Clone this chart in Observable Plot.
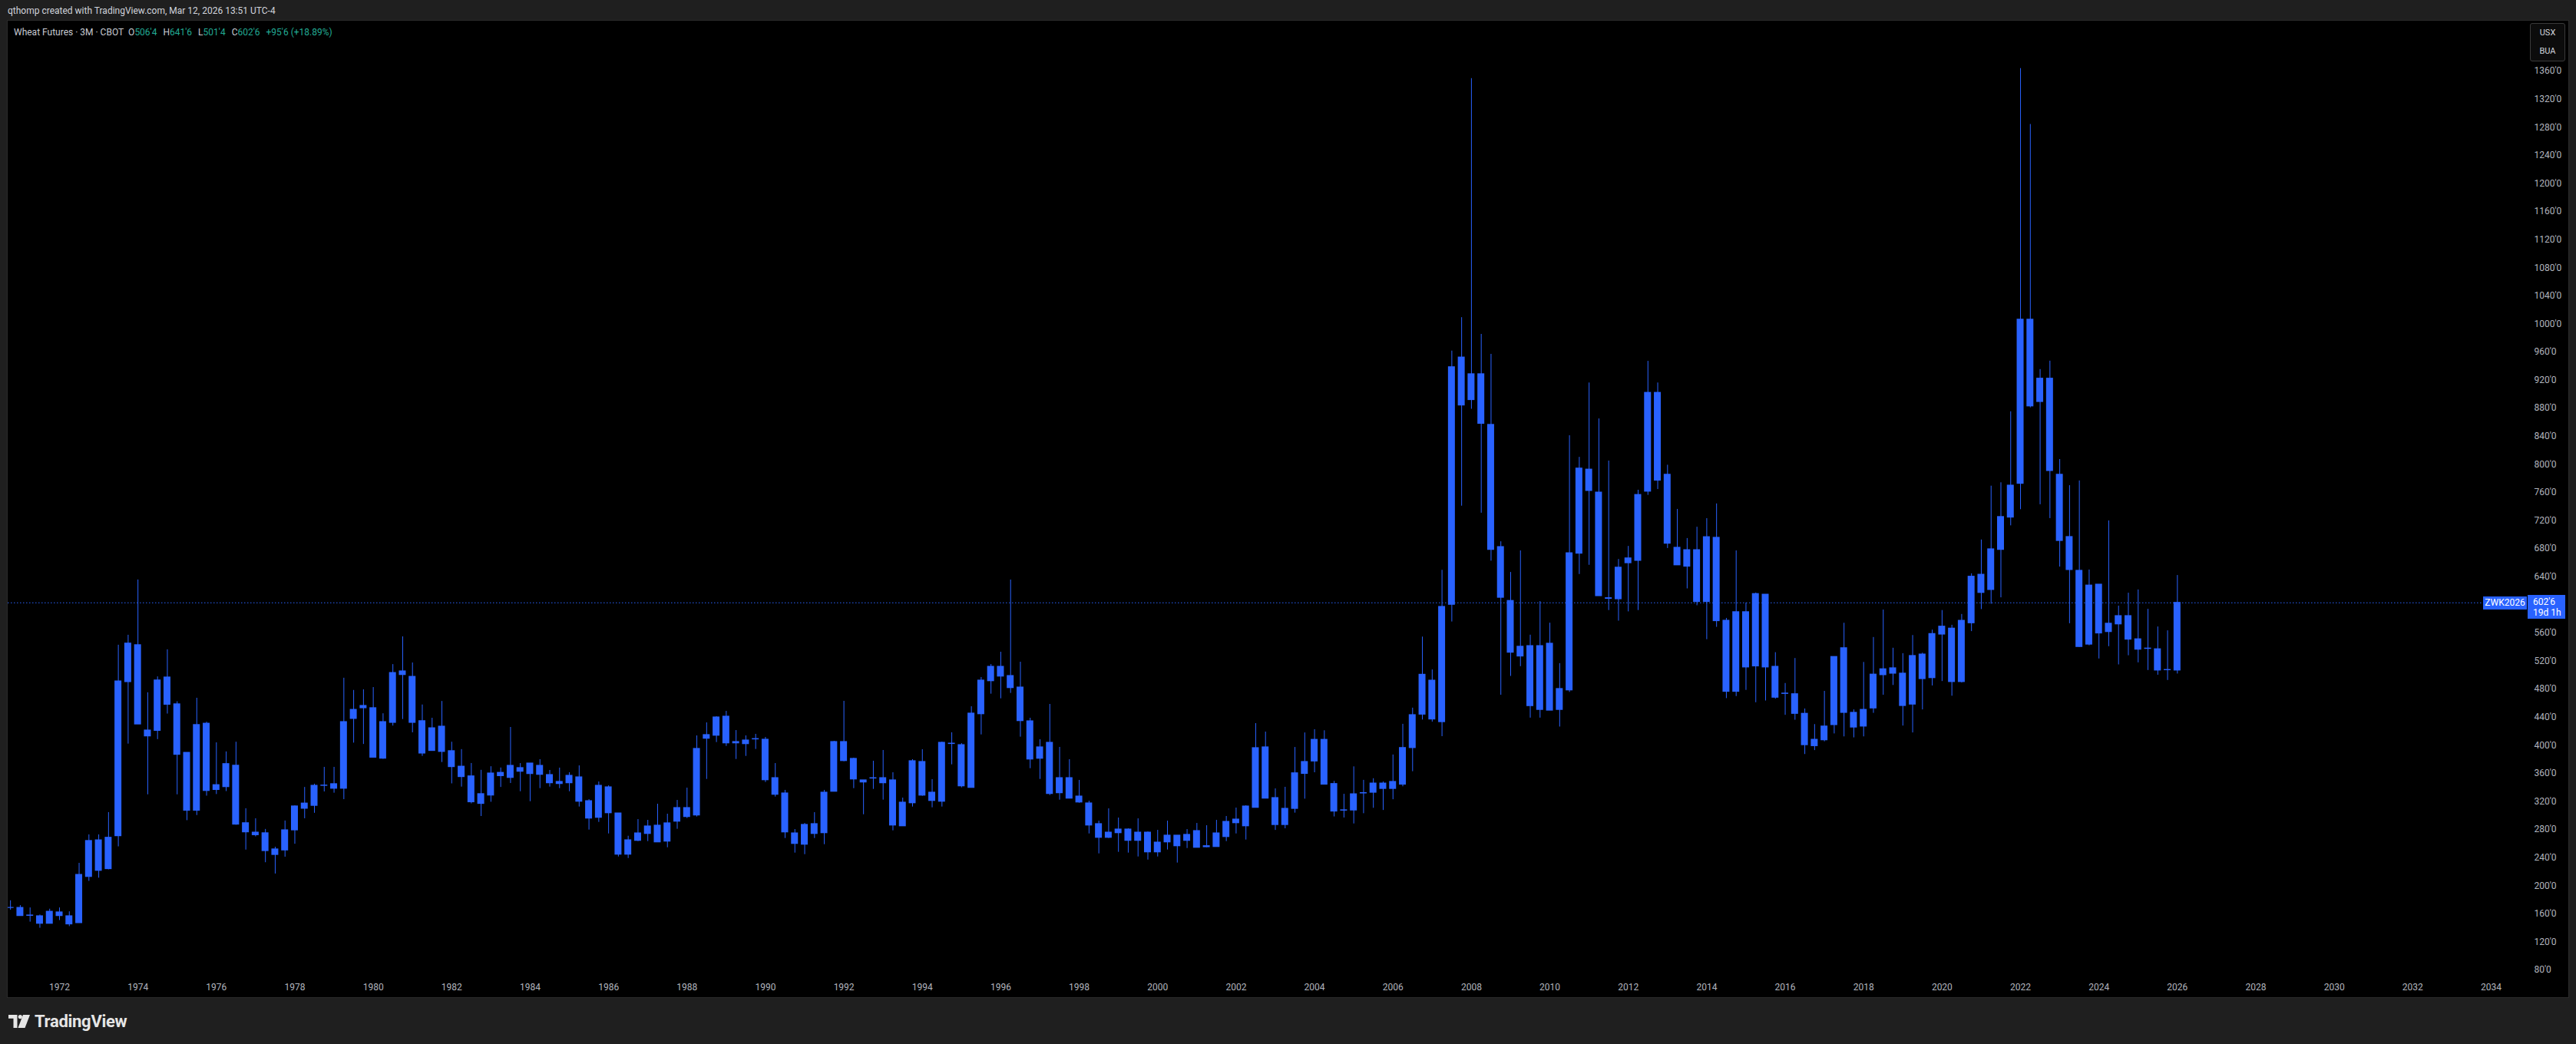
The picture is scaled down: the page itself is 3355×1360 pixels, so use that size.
<!DOCTYPE html>
<html>
<head>
<meta charset="utf-8">
<script src="https://cdn.jsdelivr.net/npm/d3@7"></script>
<script src="https://cdn.jsdelivr.net/npm/@observablehq/plot@0.6"></script>
<style>
  html, body { margin: 0; padding: 0; }
  body { width: 3355px; height: 1360px; overflow: hidden; position: relative; background: #1f1f1f;
         font-family: Roboto, "Noto Sans", "DejaVu Sans", sans-serif; }
  #hdr { position: absolute; left: 10px; top: 7px; font-size: 12px; color: #d1d4dc; white-space: nowrap; }
  #panel { position: absolute; left: 10px; top: 27px; width: 3335px; height: 1272px; background: #000;
           overflow: hidden; box-shadow: 0 0 0 1px #2a2a2a; }
  #chart { position: absolute; left: 0; top: 0; }
  #legend { position: absolute; left: 8px; top: 8px; font-size: 12px; color: #c8cbd3; white-space: nowrap; }
  #legend .v { color: #22ab94; margin-right: 8px; }
  #unit { position: absolute; left: 3285px; top: 3px; width: 44px; height: 48px; border: 1px solid #3a3a3a;
          border-radius: 3px; background: #0c0c0c; color: #d1d4dc; font-size: 11px; text-align: center;
          line-height: 24px; }
  .tag { position: absolute; background: #2962ff; color: #fff; font-size: 12px; box-sizing: border-box; }
  #sym { left: 3224px; width: 57px; height: 17px; line-height: 17px; text-align: center; }
  #price { left: 3282px; width: 49px; height: 31px; padding-left: 7px; line-height: 14px; padding-top: 2px; }
  #logo { position: absolute; left: 11px; top: 1318px; display: flex; align-items: center; gap: 6px;
          color: #e6e6e6; font-weight: 700; font-size: 22px; letter-spacing: -0.3px; }
</style>
</head>
<body>
<div id="hdr">qthomp created with TradingView.com, Mar 12, 2026 13:51 UTC-4</div>
<div id="panel">
  <div id="chart"></div>
  <div id="legend"></div>
  <div id="unit">USX<br>BUA</div>
  <div id="sym" class="tag">ZWK2026</div>
  <div id="price" class="tag"></div>
</div>
<div id="logo">
  <svg width="28" height="17" viewBox="0 0 28 17"><path d="M0 0H11.5V17H6.5V4.8H0Z" fill="#e6e6e6"/><circle cx="15.3" cy="2.6" r="2.6" fill="#e6e6e6"/><path d="M19 0H28L21.5 17H12.5Z" fill="#e6e6e6"/></svg>
  <span>TradingView</span>
</div>
<script>
// Wheat Futures, CBOT, quarterly (3M) candles, first candle = 1970 Q4, last = 2026 Q1
const firstQuarterStart = 1970.75;

const open = [
  168.4, 168.4, 157.6, 156.5, 145.9, 162.0, 156.5, 146.8, 212.6, 264.6,
  223.7, 270.6, 490.0, 542.5, 421.0, 420.6, 496.5, 458.3, 389.2, 306.9,
  430.7, 336.4, 340.5, 370.9, 289.0, 275.6, 274.7, 251.7, 250.3, 278.9,
  309.7, 313.8, 342.3, 344.6, 338.2, 437.6, 452.8, 452.8, 381.0, 432.0,
  500.1, 497.4, 434.3, 392.0, 426.5, 391.6, 369.5, 355.7, 316.6, 328.5,
  360.7, 353.6, 367.5, 359.1, 370.7, 357.6, 344.9, 346.0, 354.3, 320.4,
  296.8, 340.1, 302.9, 244.3, 264.0, 273.8, 285.5, 262.9, 291.3, 310.6,
  300.1, 409.4, 413.7, 440.7, 402.8, 406.8, 408.4, 407.9, 353.2, 331.4,
  274.5, 258.5, 287.7, 274.9, 333.9, 404.6, 380.6, 350.0, 352.7, 353.2,
  350.0, 284.7, 317.5, 376.2, 332.5, 319.7, 402.3, 400.2, 339.4, 444.3,
  491.3, 511.7, 498.6, 482.2, 434.1, 380.9, 403.5, 331.8, 353.2, 327.0,
  317.2, 287.7, 268.3, 274.9, 280.0, 264.0, 275.6, 247.6, 261.8, 271.3,
  264.0, 277.8, 254.9, 255.2, 269.4, 289.1, 284.7, 311.0, 397.0, 324.8,
  286.5, 309.5, 359.3, 377.0, 407.7, 344.8, 307.0, 307.2, 331.5, 332.5,
  345.5, 337.9, 344.0, 396.1, 443.7, 492.0, 433.0, 600.1, 952.1, 891.6,
  928.3, 856.2, 682.2, 605.5, 540.3, 541.2, 450.4, 544.6, 450.4, 478.2,
  672.9, 792.5, 759.8, 609.4, 608.0, 659.3, 662.7, 761.2, 901.8, 785.2,
  681.2, 654.4, 677.8, 604.1, 695.4, 577.3, 476.2, 589.5, 512.4, 614.4,
  511.7, 473.2, 472.7, 444.8, 398.8, 407.2, 428.8, 538.2, 446.2, 426.7,
  452.5, 499.9, 509.6, 502.0, 458.0, 529.2, 495.7, 557.7, 566.1, 490.1,
  573.8, 642.8, 621.2, 678.3, 724.3, 772.4, 1006.0, 888.9, 922.0, 785.2,
  696.5, 648.4, 543.4, 628.7, 561.3, 572.2, 583.9, 550.9, 537.3, 536.7,
  507.2, 506.5
];
const high = [
  178.6, 171.7, 168.4, 158.3, 166.6, 168.4, 162.9, 231.9, 272.4, 272.4,
  304.2, 542.5, 556.7, 635.4, 474.8, 497.4, 536.0, 462.0, 389.2, 467.0,
  432.9, 403.5, 390.6, 404.4, 309.7, 295.4, 280.2, 254.9, 292.2, 313.8,
  340.0, 344.6, 368.6, 368.6, 495.5, 478.1, 479.0, 482.2, 444.9, 514.9,
  554.4, 517.2, 457.4, 438.5, 462.4, 404.4, 393.9, 374.1, 364.4, 369.5,
  367.7, 425.4, 374.0, 374.0, 379.5, 364.2, 367.5, 360.9, 370.7, 322.6,
  347.8, 342.3, 302.9, 270.5, 294.2, 293.1, 316.1, 301.9, 321.5, 339.0,
  413.4, 431.9, 440.7, 448.3, 421.0, 413.4, 415.6, 411.2, 374.0, 335.8,
  280.0, 288.7, 304.1, 335.8, 405.7, 462.6, 381.7, 350.0, 377.3, 392.6,
  360.9, 324.8, 379.5, 393.7, 351.1, 404.6, 417.8, 402.4, 454.9, 496.5,
  515.0, 532.5, 635.3, 518.3, 438.5, 407.9, 458.2, 397.0, 379.5, 350.0,
  320.4, 292.0, 309.5, 296.4, 281.1, 295.3, 276.7, 278.9, 292.0, 271.3,
  280.0, 288.7, 285.5, 293.1, 298.6, 310.6, 313.9, 430.9, 418.8, 337.9,
  340.2, 396.9, 417.6, 422.2, 420.7, 348.6, 330.2, 369.3, 350.1, 352.4,
  347.8, 386.2, 429.9, 452.9, 554.1, 507.3, 649.2, 961.3, 1008.9, 1349.3,
  985.1, 956.7, 689.8, 646.1, 676.8, 556.8, 604.6, 573.9, 516.3, 840.8,
  810.0, 915.9, 864.7, 804.7, 664.6, 683.2, 763.2, 946.7, 915.9, 798.8,
  735.9, 694.4, 710.5, 722.7, 743.7, 580.7, 676.8, 602.6, 616.8, 614.4,
  531.9, 488.0, 523.6, 451.7, 429.5, 476.8, 525.7, 573.8, 450.4, 518.0,
  553.5, 592.6, 538.2, 530.5, 556.3, 531.2, 564.0, 591.9, 570.9, 586.3,
  644.2, 692.3, 769.0, 773.8, 874.9, 1363.6, 1284.0, 935.0, 947.0, 806.9,
  769.7, 776.4, 649.6, 628.7, 719.5, 598.2, 616.6, 621.2, 593.6, 568.5,
  563.0, 641.75
];
const low = [
  165.2, 156.9, 148.2, 139.5, 145.9, 150.5, 141.8, 146.8, 206.2, 210.8,
  222.7, 255.4, 401.7, 429.7, 329.5, 408.1, 444.5, 329.5, 292.7, 300.0,
  327.6, 329.9, 334.1, 286.2, 250.8, 269.6, 232.8, 216.7, 240.7, 259.1,
  295.4, 303.2, 333.6, 331.8, 322.6, 403.1, 401.2, 382.4, 380.1, 427.4,
  436.7, 417.8, 384.2, 391.5, 375.5, 345.1, 340.5, 316.6, 298.6, 318.9,
  340.0, 345.6, 333.9, 319.7, 338.3, 340.5, 338.3, 333.9, 312.1, 279.3,
  290.2, 273.8, 241.0, 238.8, 262.9, 262.9, 261.8, 254.1, 280.4, 295.7,
  297.9, 351.4, 403.9, 398.4, 379.8, 384.2, 394.1, 347.1, 326.3, 267.3,
  246.5, 244.3, 267.3, 258.5, 333.9, 376.6, 338.3, 301.1, 337.2, 321.9,
  278.2, 284.7, 312.1, 327.4, 311.0, 312.1, 372.2, 339.4, 339.4, 414.8,
  472.8, 466.2, 473.9, 411.6, 366.7, 351.4, 328.5, 321.9, 324.1, 317.5,
  273.8, 245.4, 267.3, 247.6, 246.5, 241.0, 236.6, 241.0, 250.9, 232.3,
  253.0, 254.1, 254.1, 255.2, 262.9, 273.8, 265.1, 311.0, 324.1, 278.8,
  281.1, 303.4, 323.3, 360.9, 344.0, 298.0, 296.5, 288.0, 302.6, 310.3,
  307.2, 322.5, 340.9, 362.4, 436.0, 433.0, 412.3, 575.6, 740.5, 878.5,
  730.5, 662.2, 471.3, 498.1, 512.0, 438.7, 438.7, 449.4, 426.0, 475.3,
  643.2, 656.3, 612.4, 591.9, 576.8, 590.0, 591.9, 755.9, 764.2, 680.2,
  656.3, 622.7, 598.7, 550.4, 568.0, 466.5, 469.4, 478.2, 460.6, 463.1,
  465.7, 442.7, 435.7, 386.9, 392.5, 405.0, 416.2, 412.0, 410.6, 412.0,
  445.5, 471.3, 485.2, 427.4, 417.6, 450.4, 484.5, 490.8, 469.9, 488.7,
  561.9, 593.3, 600.9, 610.0, 712.5, 735.5, 880.5, 742.5, 722.8, 653.8,
  573.1, 539.6, 541.7, 522.9, 540.4, 514.5, 527.5, 517.4, 506.5, 499.8,
  492.3, 501.5
];
const close = [
  168.4, 156.9, 157.2, 145.9, 162.9, 156.9, 145.0, 215.4, 263.7, 221.3,
  268.3, 490.9, 544.8, 429.7, 412.7, 492.3, 457.8, 386.5, 306.9, 428.8,
  335.0, 343.2, 373.2, 287.1, 276.1, 272.0, 249.4, 243.9, 278.9, 312.9,
  317.0, 342.3, 342.6, 338.2, 433.0, 450.4, 456.0, 382.4, 433.0, 502.9,
  505.2, 432.0, 388.3, 424.2, 390.6, 369.0, 354.8, 318.9, 330.4, 359.8,
  356.1, 370.7, 362.4, 374.0, 358.0, 346.0, 347.8, 356.5, 319.7, 295.7,
  342.3, 303.3, 244.3, 264.7, 274.5, 284.4, 261.8, 288.8, 310.6, 297.9,
  394.8, 414.5, 439.6, 402.8, 404.6, 401.7, 408.8, 350.3, 329.6, 276.0,
  259.6, 286.6, 273.8, 332.5, 404.6, 377.6, 351.4, 347.1, 353.1, 346.0,
  285.8, 318.3, 377.3, 328.4, 320.8, 403.5, 401.9, 341.6, 445.1, 492.1,
  511.7, 497.9, 481.5, 434.5, 379.8, 397.0, 330.7, 353.2, 324.1, 318.6,
  285.8, 268.3, 275.6, 280.0, 264.0, 275.6, 247.6, 261.4, 271.3, 256.3,
  272.4, 254.1, 256.3, 274.5, 290.9, 294.2, 312.8, 395.9, 324.1, 286.5,
  309.5, 360.1, 376.2, 407.7, 344.0, 305.7, 307.4, 330.2, 331.9, 345.5,
  337.9, 347.8, 396.1, 442.9, 500.4, 436.8, 597.0, 938.3, 883.9, 928.3,
  857.8, 678.3, 610.1, 531.9, 526.5, 455.8, 541.2, 449.4, 480.1, 673.4,
  794.0, 762.2, 612.4, 608.6, 652.9, 666.1, 756.4, 901.8, 776.9, 687.1,
  656.3, 677.8, 604.1, 696.3, 576.8, 476.2, 589.5, 510.9, 615.3, 510.9,
  467.8, 473.6, 444.8, 400.2, 407.8, 426.7, 525.7, 446.2, 425.3, 450.4,
  500.6, 508.2, 502.0, 456.0, 527.1, 494.3, 558.4, 568.9, 490.1, 577.2,
  640.0, 617.0, 679.0, 725.0, 769.7, 1006.0, 882.6, 922.0, 790.6, 691.0,
  649.6, 540.0, 627.4, 559.3, 573.1, 583.9, 550.5, 536.2, 537.7, 506.5,
  507.0, 602.75
];

const yTicks = [80, 120, 160, 200, 240, 280, 320, 360, 400, 440, 480, 520, 560, 600, 640, 680, 720, 760,
  800, 840, 880, 920, 960, 1000, 1040, 1080, 1120, 1160, 1200, 1240, 1280, 1320, 1360];
const xTicks = [1972, 1974, 1976, 1978, 1980, 1982, 1984, 1986, 1988, 1990, 1992, 1994, 1996, 1998, 2000,
  2002, 2004, 2006, 2008, 2010, 2012, 2014, 2016, 2018, 2020, 2022, 2024, 2026, 2028, 2030, 2032, 2034];

// quarter position (fractional year) of each candle
const quarters = open.map((_, i) => firstQuarterStart + i / 4);
const rows = quarters.map((t, i) => ({t, o: open[i], h: high[i], l: low[i], c: close[i]}));

const blue = "#2962ff";
const halfBody = 0.088;
const fmt8 = v => { const w = Math.floor(v + 1e-9); return `${w}'${Math.round((v - w) * 8)}`; };

const chart = Plot.plot({
  width: 3335, height: 1272,
  marginTop: 0, marginLeft: 0, marginRight: 65, marginBottom: 30,
  x: {domain: [1972, 2034], range: [67, 3234], label: null},
  y: {domain: [80, 1360], range: [1236, 65], label: null},
  style: {background: "transparent", color: "#b2b5be", fontFamily: "Roboto, 'Noto Sans', sans-serif", fontSize: "12px", overflow: "visible"},
  marks: [
    Plot.ruleY([close[close.length - 1]], {stroke: blue, strokeWidth: 1, strokeDasharray: "1.5 2.5"}),
    Plot.ruleX(rows, {x: "t", y1: "l", y2: "h", stroke: blue, strokeWidth: 1}),
    Plot.rect(rows, {x1: d => d.t - halfBody, x2: d => d.t + halfBody,
      y1: d => Math.min(d.o, d.c), y2: d => Math.max(d.o, d.c), fill: blue, insetTop: -0.6, insetBottom: -0.6}),
    Plot.axisY(yTicks, {anchor: "right", tickSize: 0, tickPadding: 20, tickFormat: d => `${d}'0`, textAnchor: "start", label: null}),
    Plot.axisX(xTicks, {anchor: "bottom", tickSize: 0, tickPadding: 12, tickFormat: d => `${d}`, label: null})
  ]
});
document.getElementById("chart").append(chart);

// legend and last-price tags
const n = close.length - 1;
const chg = close[n] - close[n - 1];
const pct = (chg / close[n - 1] * 100).toFixed(2);
document.getElementById("legend").innerHTML =
  `Wheat Futures · 3M · CBOT&nbsp;&nbsp;O<span class="v">${fmt8(open[n])}</span>H<span class="v">${fmt8(high[n])}</span>` +
  `L<span class="v">${fmt8(low[n])}</span>C<span class="v">${fmt8(close[n])}</span><span class="v">+${fmt8(chg)} (+${pct}%)</span>`;

const yLast = chart.scale("y").apply(close[n]);
const sym = document.getElementById("sym");
sym.style.top = (yLast - 8) + "px";
const price = document.getElementById("price");
price.style.top = (yLast - 9.5) + "px";
price.innerHTML = `${fmt8(close[n])}<br>19d 1h`;
</script>
</body>
</html>
